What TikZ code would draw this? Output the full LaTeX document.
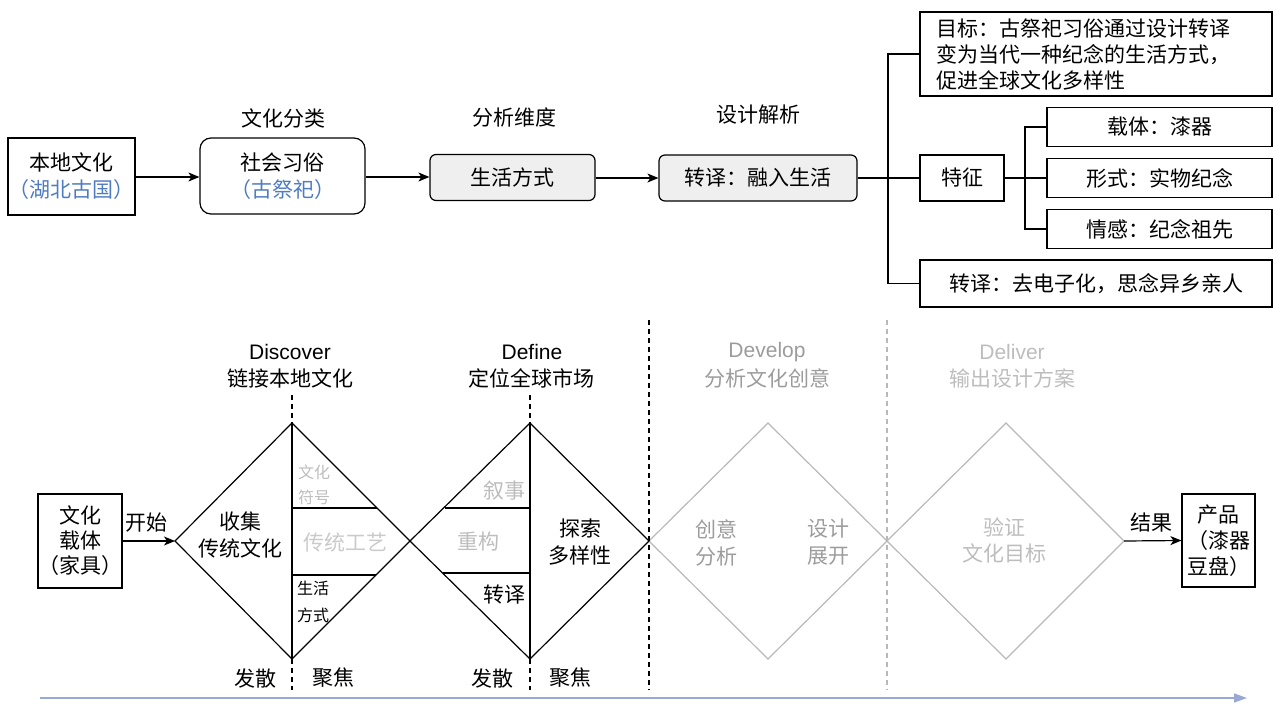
\documentclass[tikz,border=0pt]{standalone}
\usepackage{fontspec}
\setmainfont{Noto Sans CJK SC}
\newfontfamily\latinf{Liberation Sans}
\usetikzlibrary{arrows.meta}
\definecolor{blu}{HTML}{4F7CC0}
\definecolor{boxgray}{HTML}{EFEFEF}
\definecolor{diagray}{HTML}{B8B8B8}
\definecolor{txtgray}{HTML}{9C9C9C}
\definecolor{ltgray}{HTML}{BDBDBD}
\definecolor{vltgray}{HTML}{CACACA}
\definecolor{timeblue}{HTML}{9AA8D6}
\tikzset{
 lbl/.style={inner sep=0pt, align=center, font=\fontsize{21}{27}\selectfont},
 sml/.style={inner sep=0pt, align=center, font=\fontsize{16}{26}\selectfont},
 boxn/.style={draw, line width=1.2pt, inner sep=0pt, align=center, font=\fontsize{21}{27}\selectfont},
 rboxn/.style={boxn, rounded corners=11pt},
 gboxn/.style={boxn, rounded corners=6pt, fill=boxgray},
 conn/.style={line width=1.2pt},
 arr/.style={conn, -{Stealth[length=11pt,width=9pt,inset=3pt]}},
 dsh/.style={line width=1.2pt, dash pattern=on 5pt off 4pt},
 gdsh/.style={dsh, draw=diagray},
 dia/.style={line width=1.2pt, line join=miter},
 gdia/.style={dia, draw=diagray},
 timeline/.style={line width=1.5pt, draw=timeblue, -{Triangle[length=13pt,width=9pt]}, color=timeblue},
}
\begin{document}
\begin{tikzpicture}[x=1pt,y=-1pt]
\useasboundingbox (0,0) rectangle (1273,704);

% ---------- top row ----------
\node[boxn, minimum width=127pt, minimum height=77pt] (loc) at (71.5,176.5) {本地文化\\\textcolor{blu}{（湖北古国）}};
\node[rboxn, minimum width=165pt, minimum height=76pt] (soc) at (282.5,176) {社会习俗\\\textcolor{blu}{（古祭祀）}};
\node[gboxn, minimum width=165pt, minimum height=46pt] (life) at (512.5,177.5) {生活方式};
\node[gboxn, minimum width=198pt, minimum height=46pt] (trans) at (758,178) {转译：融入生活};

\node[lbl] (l1) at (283,118) {文化分类};
\node[lbl] (l2) at (514,117) {分析维度};
\node[lbl] (l3) at (758,115) {设计解析};

\draw[arr] (loc.east |- 0,177) -- (soc.west |- 0,177);
\draw[arr] (soc.east |- 0,177) -- (life.west |- 0,177);
\draw[arr] (life.east |- 0,178) -- (trans.west |- 0,178);

% tree
\node[boxn, minimum width=352pt, minimum height=84pt] (goal) at (1096,54) {};
\node[lbl, anchor=west, align=left, font=\fontsize{21}{26}\selectfont] (goaltxt) at (936,55) {目标：古祭祀习俗通过设计转译\\变为当代一种纪念的生活方式，\\促进全球文化多样性};
\node[boxn, minimum width=84pt, minimum height=46pt] (feat) at (962,178) {特征};
\node[boxn, minimum width=352pt, minimum height=47pt] (tr2) at (1096,283.5) {转译：去电子化，思念异乡亲人};
\node[boxn, minimum width=225pt, minimum height=39pt] (b1) at (1159.5,127) {载体：漆器};
\node[boxn, minimum width=225pt, minimum height=39pt] (b2) at (1159.5,178) {形式：实物纪念};
\node[boxn, minimum width=225pt, minimum height=39pt] (b3) at (1159.5,229) {情感：纪念祖先};

\coordinate (tk) at (888,178);
\coordinate (fk) at (1025,178);
\draw[line width=2pt] (trans.east) -- (tk);
\draw[conn] (tk) -- (feat.west);
\draw[conn] (goal.west) -| (tk) |- (tr2.west);
\draw[conn] (feat.east) -- (fk) -- (b2.west);
\draw[conn] (b1.west) -| (fk) |- (b3.west);

% ---------- bottom ----------
\node[boxn, minimum width=76pt, minimum height=94pt, font=\fontsize{21}{25}\selectfont] (carrier) at (80,541) {文化\\载体\\（家具）};
\node[boxn, minimum width=73pt, minimum height=93pt, font=\fontsize{21}{26}\selectfont] (prod) at (1218.5,540.5) {产品\\（漆器\\豆盘）};

% diamond vertices
\coordinate (d1l) at (175,541);
\coordinate (d1t) at (292,423);
\coordinate (d1r) at (410,541);
\coordinate (d1b) at (292,659);
\coordinate (d2t) at (530,423);
\coordinate (d2r) at (649,541);
\coordinate (d2b) at (530,659);
\coordinate (d3t) at (768,423);
\coordinate (d3r) at (887,541);
\coordinate (d3b) at (768,659);
\coordinate (d4t) at (1006,423);
\coordinate (d4r) at (1124,541);
\coordinate (d4b) at (1006,659);

% gray diamonds first
\draw[gdia] (d2r) -- (d3t) -- (d3r) -- (d3b) -- cycle;
\draw[gdia] (d3r) -- (d4t) -- (d4r) -- (d4b) -- cycle;
% black diamonds
\draw[dia] (d1l) -- (d1t) -- (d1r) -- (d1b) -- cycle;
\draw[dia] (d1r) -- (d2t) -- (d2r) -- (d2b) -- cycle;
\draw[conn] (d1t) -- (d1b);
\draw[conn] (d2t) -- (d2b);
\draw[conn] (292,508) -- (377,508);
\draw[conn] (292,575) -- (376,575);
\draw[conn] (445,508) -- (530,508);
\draw[conn] (443,573) -- (530,573);

% dashed lines
\draw[dsh] (292,395) -- (d1t);
\draw[dsh] (d1b) -- (292,690);
\draw[dsh] (530,395) -- (d2t);
\draw[dsh] (d2b) -- (530,690);
\draw[dsh] (649,320) -- (649,690);
\draw[gdsh] (887,320) -- (887,690);

% arrows
\draw[arr] (carrier.east) -- (d1l);
\draw[arr] (d4r) -- (prod.west);
\node[lbl] (start) at (146,523) {开始};
\node[lbl] (res) at (1151,523) {结果};

% headings
\node[lbl, font=\latinf\fontsize{21}{27}\selectfont] (h1a) at (290,352) {Discover};
\node[lbl] (h1b) at (290,378) {链接本地文化};
\node[lbl, font=\latinf\fontsize{21}{27}\selectfont] (h2a) at (532,352) {Define};
\node[lbl] (h2b) at (531,378) {定位全球市场};
\node[lbl, text=txtgray, font=\latinf\fontsize{21}{27}\selectfont] (h3a) at (767,352) {Develop};
\node[lbl, text=txtgray] (h3b) at (767,378) {分析文化创意};
\node[lbl, text=ltgray, font=\latinf\fontsize{21}{27}\selectfont] (h4a) at (1012,352) {Deliver};
\node[lbl, text=ltgray] (h4b) at (1012,378) {输出设计方案};

% diamond 1 texts
\node[lbl] (c1) at (240,535) {收集\\传统文化};
\node[sml, text=ltgray, font=\fontsize{16}{25}\selectfont] (c2) at (314,484.5) {文化\\符号};
\node[lbl, text=vltgray] (c3) at (345,542) {传统工艺};
\node[sml, font=\fontsize{16}{27}\selectfont] (c4) at (313,601.5) {生活\\方式};
% diamond 2 texts
\node[lbl, text=ltgray] (e1) at (504,491) {叙事};
\node[lbl, text=ltgray] (e2) at (478,542) {重构};
\node[lbl] (e3) at (504,595) {转译};
\node[lbl] (e4) at (580,542.5) {探索\\多样性};
% diamond 3 texts
\node[lbl, text=txtgray] (f1) at (716,542.5) {创意\\分析};
\node[lbl, text=txtgray] (f2) at (828,542.5) {设计\\展开};
% diamond 4 texts
\node[lbl, text=ltgray, font=\fontsize{21}{26}\selectfont] (g1) at (1004,540) {验证\\文化目标};

% bottom labels
\node[lbl] (k1) at (255,678) {发散};
\node[lbl] (k2) at (333,678) {聚焦};
\node[lbl] (k3) at (492,678) {发散};
\node[lbl] (k4) at (570,678) {聚焦};

% timeline
\coordinate (ts) at (40,698);
\coordinate (te) at (1247,698);
\draw[timeline] (ts) -- (te);
\end{tikzpicture}
\end{document}
